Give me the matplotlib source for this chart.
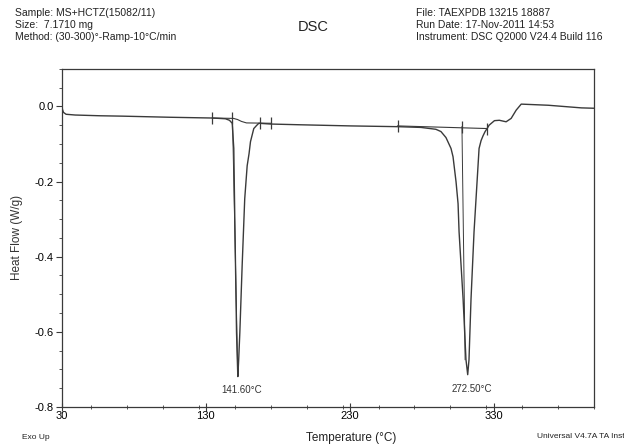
import numpy as np
import matplotlib
matplotlib.use("Agg")
import matplotlib.pyplot as plt
from matplotlib.ticker import MultipleLocator

plt.rcParams['font.family'] = ['Liberation Sans', 'DejaVu Sans']
plt.rcParams['axes.unicode_minus'] = False

# DSC trace (temperature in axis units, heat flow W/g)
temp = [30.0, 30.3, 31.0, 32.8, 39.1, 56.5, 71.8, 105.3, 134.5, 143.6, 146.4, 148.3,
        149.4, 149.9, 150.6, 151.3, 152.2, 152.8, 153.6, 155.2, 157.0, 158.7, 160.0,
        161.0, 163.3, 165.2, 166.8, 174.9, 195.9, 230.7, 263.2, 279.5, 289.9, 293.4,
        296.9, 300.4, 301.8, 303.9, 305.3, 306.0, 308.8, 310.8, 312.0, 312.9, 314.3,
        316.4, 318.5, 319.9, 321.3, 322.7, 324.1, 325.5, 326.9, 330.6, 334.0, 338.7,
        342.2, 345.7, 349.2, 368.0, 391.0, 400.0]
heat_flow = [0.0, -0.008, -0.016, -0.021, -0.023, -0.025, -0.026, -0.029, -0.031, -0.033,
             -0.037, -0.045, -0.112, -0.246, -0.425, -0.602, -0.719, -0.674, -0.602,
             -0.425, -0.246, -0.158, -0.126, -0.094, -0.059, -0.051, -0.045, -0.047,
             -0.049, -0.052, -0.054, -0.056, -0.061, -0.067, -0.083, -0.112, -0.134,
             -0.201, -0.259, -0.334, -0.513, -0.674, -0.714, -0.674, -0.513, -0.334,
             -0.201, -0.112, -0.091, -0.078, -0.067, -0.059, -0.050, -0.038, -0.037,
             -0.041, -0.032, -0.010, 0.006, 0.003, -0.004, -0.005]

# integration baselines
base1_t = [134.5, 149.2, 152.0, 154.7, 158.2, 175.6]
base1_hf = [-0.031, -0.032, -0.035, -0.040, -0.044, -0.045]
base2_t = [263.2, 325.5]
base2_hf = [-0.052, -0.059]

# limit tick marks on the baselines
tick_t = [134.5, 148.5, 167.3, 175.6, 263.2, 308.0, 325.5]
tick_hf = [-0.031, -0.032, -0.045, -0.045, -0.052, -0.054, -0.059]

# peak drop lines and labels
drop_t = [[148.5, 152.2], [308.0, 310.2]]
drop_hf = [[-0.032, -0.719], [-0.054, -0.674]]
peak_t = [152.2, 312.0]
peak_hf = [-0.719, -0.714]
peak_labels = ['141.60°C', '272.50°C']

fig = plt.figure(figsize=(6.24, 4.45), dpi=100)
ax = fig.add_axes([0.0994, 0.0854, 0.853, 0.760])

lc = '#3a3a3a'
ax.plot(temp, heat_flow, color=lc, lw=1.0)
ax.plot(base1_t, base1_hf, color=lc, lw=0.8)
ax.plot(base2_t, base2_hf, color=lc, lw=0.8)
ax.plot(tick_t, tick_hf, ls='none', marker='|', ms=8, mew=0.9, color=lc)
for dt, dh in zip(drop_t, drop_hf):
    ax.plot(dt, dh, color=lc, lw=0.7)
for t, h, lab in zip(peak_t, peak_hf, peak_labels):
    ax.annotate(lab, (t, h), xytext=(3, -10), textcoords='offset points',
                ha='center', va='center', fontsize=7, color='#333333')

ax.set_xlim(30, 400)
ax.set_ylim(-0.8, 0.1)
ax.set_xticks([30, 130, 230, 330])
ax.xaxis.set_minor_locator(MultipleLocator(25))
ax.set_yticks([0.0, -0.2, -0.4, -0.6, -0.8])
ax.set_yticklabels(['0.0', '-0.2', '-0.4', '-0.6', '-0.8'])
ax.yaxis.set_minor_locator(MultipleLocator(0.05))
ax.tick_params(axis='x', which='major', direction='inout', length=6, labelsize=8, pad=0, color=lc)
ax.tick_params(axis='x', which='minor', direction='inout', length=3, color=lc)
ax.tick_params(axis='y', which='major', direction='out', length=4, labelsize=8, pad=2, color=lc)
ax.tick_params(axis='y', which='minor', direction='out', length=2, color=lc)
for s in ax.spines.values():
    s.set_color(lc)
    s.set_linewidth(0.9)

ax.set_ylabel('Heat Flow (W/g)', fontsize=8.5, color='#333333', labelpad=8)
fig.text(0.562, 0.002, 'Temperature (°C)', ha='center', va='bottom', fontsize=8.5, color='#222222')
fig.text(0.035, 0.008, 'Exo Up', ha='left', va='bottom', fontsize=6, color='#222222')
fig.text(0.86, 0.012, 'Universal V4.7A TA Inst', ha='left', va='bottom',
         fontsize=6, color='#222222')

header_l = 'Sample: MS+HCTZ(15082/11)\nSize:  7.1710 mg\nMethod: (30-300)°-Ramp-10°C/min'
header_r = 'File: TAEXPDB 13215 18887\nRun Date: 17-Nov-2011 14:53\nInstrument: DSC Q2000 V24.4 Build 116'
fig.text(0.024, 0.983, header_l, ha='left', va='top', fontsize=7.5, linespacing=1.3, color='#222222')
fig.text(0.667, 0.983, header_r, ha='left', va='top', fontsize=7.5, linespacing=1.3, color='#222222')
fig.text(0.502, 0.94, 'DSC', ha='center', va='center', fontsize=10.5, color='#222222')

fig.savefig('out.png', dpi=100)
